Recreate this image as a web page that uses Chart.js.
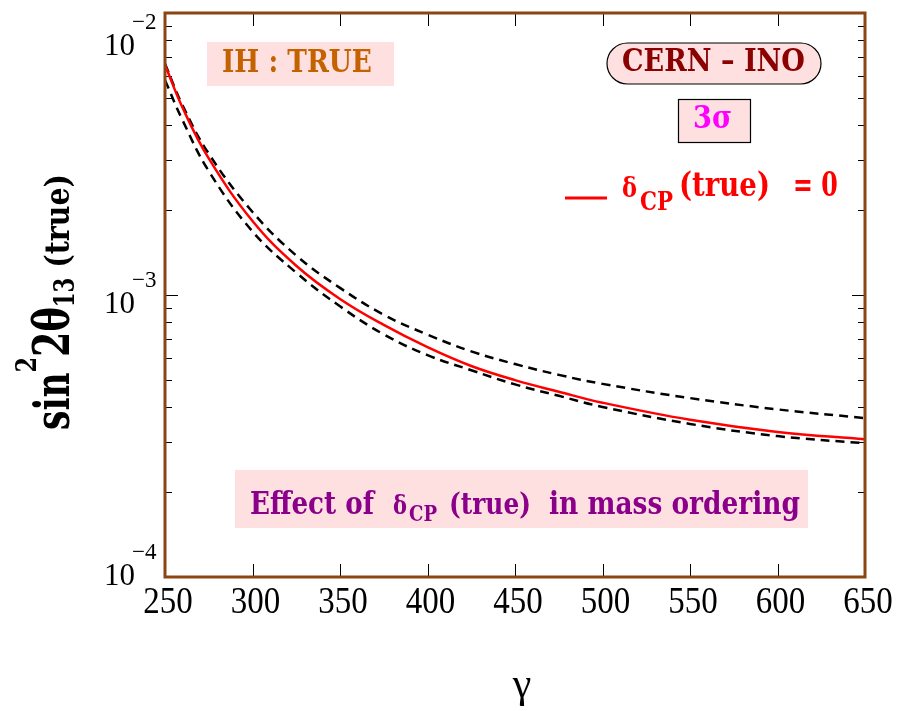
<!DOCTYPE html>
<html><head><meta charset="utf-8">
<script src="https://cdn.jsdelivr.net/npm/chart.js@4.4.1/dist/chart.umd.min.js"></script>
<style>html,body{margin:0;padding:0;background:#fff;}canvas{display:block;}</style>
</head><body>
<canvas id="c" width="911" height="711"></canvas>
<script>
// ---- data ----
const gamma       = [250, 260, 275, 300, 325, 350, 375, 400, 425, 450, 475, 500, 550, 600, 650];
const deltaCPzero = [6.55e-3, 4.62e-3, 3.05e-3, 1.83e-3, 1.27e-3, 9.68e-4, 7.83e-4, 6.53e-4, 5.60e-4, 4.99e-4, 4.54e-4, 4.15e-4, 3.61e-4, 3.27e-4, 3.08e-4];
const dashedUpper = [6.61e-3, 4.71e-3, 3.17e-3, 1.97e-3, 1.38e-3, 1.06e-3, 8.51e-4, 7.24e-4, 6.31e-4, 5.69e-4, 5.21e-4, 4.84e-4, 4.31e-4, 3.93e-4, 3.66e-4];
const dashedLower = [5.78e-3, 4.17e-3, 2.75e-3, 1.68e-3, 1.20e-3, 9.12e-4, 7.25e-4, 6.12e-4, 5.41e-4, 4.82e-4, 4.39e-4, 4.01e-4, 3.49e-4, 3.16e-4, 2.98e-4];
const xTicks      = [250, 300, 350, 400, 450, 500, 550, 600, 650];
const yDecades    = [1e-4, 1e-3, 1e-2];
const yExponents  = ['−4', '−3', '−2'];

const pts = arr => gamma.map((g, i) => ({x: g, y: arr[i]}));

const BORDER = '#8b4513';
const PINK = '#ffe0e0';
const BOLD = '"DejaVu Serif", serif';
const TIMES = '"Liberation Serif", "Times New Roman", serif';
const SY = 1.22;

function fitText(ctx, text, x0, x1, base, color, sy) {
  ctx.font = 'bold 100px ' + BOLD;
  const w = ctx.measureText(text).width;
  const size = 100 * (x1 - x0) / w;
  drawText(ctx, text, x0, base, size, color, sy);
  return size;
}
function drawText(ctx, text, x, base, size, color, sy) {
  ctx.save();
  ctx.font = 'bold ' + size.toFixed(2) + 'px ' + BOLD;
  ctx.fillStyle = color;
  ctx.textAlign = 'left';
  ctx.textBaseline = 'alphabetic';
  ctx.translate(x, base);
  ctx.scale(1, sy === undefined ? SY : sy);
  ctx.fillText(text, 0, 0);
  ctx.restore();
}

function roundRect(ctx, x, y, w, h, r) {
  ctx.beginPath();
  ctx.moveTo(x + r, y);
  ctx.lineTo(x + w - r, y);
  ctx.arc(x + w - r, y + r, r, -Math.PI / 2, Math.PI / 2);
  ctx.lineTo(x + r, y + h);
  ctx.arc(x + r, y + r, r, Math.PI / 2, Math.PI * 1.5);
  ctx.closePath();
}

const decor = {
  id: 'decor',
  beforeDatasetsDraw(chart) {
    const ctx = chart.ctx, xs = chart.scales.x, ys = chart.scales.y, a = chart.chartArea;
    ctx.save();
    ctx.strokeStyle = '#000';
    ctx.lineWidth = 1;
    ctx.beginPath();
    xTicks.forEach(v => {
      const px = Math.round(xs.getPixelForValue(v)) + 0.5;
      ctx.moveTo(px, a.bottom); ctx.lineTo(px, a.bottom - 13);
      ctx.moveTo(px, a.top); ctx.lineTo(px, a.top + 13);
    });
    yDecades.forEach(d => {
      const py = Math.round(ys.getPixelForValue(d)) + 0.5;
      ctx.moveTo(a.left, py); ctx.lineTo(a.left + 13, py);
      ctx.moveTo(a.right, py); ctx.lineTo(a.right - 13, py);
      if (d < 1e-2) {
        for (let k = 2; k <= 9; k++) {
          const pm = Math.round(ys.getPixelForValue(k * d)) + 0.5;
          ctx.moveTo(a.left, pm); ctx.lineTo(a.left + 7, pm);
          ctx.moveTo(a.right, pm); ctx.lineTo(a.right - 7, pm);
        }
      }
    });
    ctx.stroke();
    ctx.restore();
  },
  afterDatasetsDraw(chart) {
    const ctx = chart.ctx, xs = chart.scales.x, ys = chart.scales.y, a = chart.chartArea;
    ctx.save();
    ctx.strokeStyle = BORDER;
    ctx.lineWidth = 3;
    ctx.strokeRect(a.left, a.top, a.right - a.left, a.bottom - a.top);

    // x tick labels
    ctx.fillStyle = '#000';
    ctx.textBaseline = 'alphabetic';
    xTicks.forEach(v => {
      ctx.save();
      ctx.font = '33px ' + TIMES;
      ctx.textAlign = 'center';
      ctx.translate(xs.getPixelForValue(v) + 3, 613);
      ctx.scale(1, 1.12);
      ctx.fillText(String(v), 0, 0);
      ctx.restore();
    });

    // y tick labels 10^n
    const offs = [8, 18, 42];
    yDecades.forEach((d, i) => {
      const base = ys.getPixelForValue(d) + offs[i];
      ctx.font = '31px ' + TIMES;
      ctx.textAlign = 'right';
      ctx.fillText('10', 135, base);
      ctx.font = '23px ' + TIMES;
      ctx.textAlign = 'left';
      ctx.fillText(yExponents[i], 132, base - 26);
    });

    // x title
    ctx.font = '42px ' + TIMES;
    ctx.textAlign = 'center';
    ctx.fillText('γ', 522, 697);

    // y title (rotated)
    ctx.save();
    ctx.translate(69, 430);
    ctx.rotate(-Math.PI / 2);
    const parts = [
      {t: 'sin', s: 34, dy: 0, sy: 1.45},
      {t: '2', s: 22, dy: -33, sy: 1.3},
      {t: '2θ', s: 36, dy: 0, sy: 1.42},
      {t: '13', s: 21, dy: 5, sy: 1.3},
      {t: ' (true)', s: 28, dy: 0, sy: 1.2}
    ];
    let tot = 0;
    parts.forEach(p => { ctx.font = 'bold ' + p.s + 'px ' + BOLD; tot += ctx.measureText(p.t).width; });
    const f = 256 / tot;
    let cx = 0;
    parts.forEach(p => {
      ctx.font = 'bold ' + (p.s * f) + 'px ' + BOLD;
      const w = ctx.measureText(p.t).width;
      drawText(ctx, p.t, cx, p.dy, p.s * f, '#000', p.sy / f);
      cx += w;
    });
    ctx.restore();

    // IH : TRUE
    ctx.fillStyle = PINK;
    ctx.fillRect(207, 42, 187, 44);
    fitText(ctx, 'IH : TRUE', 222, 372, 72, '#c46200');

    // CERN - INO
    roundRect(ctx, 607, 43, 214, 41, 20.5);
    ctx.fillStyle = PINK; ctx.fill();
    ctx.strokeStyle = '#000'; ctx.lineWidth = 1.2; ctx.stroke();
    fitText(ctx, 'CERN – INO', 622, 805, 71, '#8b0000', 1.15);

    // 3 sigma
    ctx.fillStyle = PINK;
    ctx.fillRect(678, 99, 72, 43);
    ctx.strokeStyle = '#000'; ctx.lineWidth = 1.2;
    ctx.strokeRect(678.5, 99.5, 72, 43);
    fitText(ctx, '3σ', 693, 732, 128, '#ff00ff', 1.15);

    // legend
    ctx.strokeStyle = '#ff0000'; ctx.lineWidth = 3;
    ctx.beginPath(); ctx.moveTo(565, 198); ctx.lineTo(607, 198); ctx.stroke();
    fitText(ctx, 'δ', 622, 637, 197, '#ff0000');
    fitText(ctx, 'CP', 640, 673, 210, '#ff0000');
    const ls = fitText(ctx, '(true)', 679, 770, 196, '#ff0000');
    drawText(ctx, '= 0', 793, 196, ls * 0.86, '#ff0000', SY / 0.86);

    // bottom box
    ctx.fillStyle = PINK;
    ctx.fillRect(235, 470, 573, 58);
    const PUR = '#8b008b';
    fitText(ctx, 'Effect of', 250, 374, 514, PUR);
    fitText(ctx, 'δ', 393, 407, 514, PUR);
    fitText(ctx, 'CP', 409, 437, 521, PUR);
    fitText(ctx, '(true)', 449, 531, 514, PUR);
    fitText(ctx, 'in mass ordering', 549, 800, 514, PUR);
    ctx.restore();
  }
};

new Chart(document.getElementById('c'), {
  type: 'line',
  data: {
    datasets: [
      {label: 'δCP(true) = 0', data: pts(deltaCPzero), borderColor: '#ff0000', borderWidth: 2.5, order: 0},
      {label: 'upper', data: pts(dashedUpper), borderColor: '#000', borderWidth: 2.5, borderDash: [9, 6], order: 1},
      {label: 'lower', data: pts(dashedLower), borderColor: '#000', borderWidth: 2.5, borderDash: [9, 6], order: 2}
    ]
  },
  options: {
    responsive: false,
    animation: false,
    devicePixelRatio: 1,
    layout: {padding: {left: 165, right: 46, top: 13, bottom: 134}},
    elements: {point: {radius: 0}, line: {tension: 0.4, fill: false}},
    plugins: {legend: {display: false}, tooltip: {enabled: false}},
    scales: {
      x: {type: 'linear', min: 250, max: 650, display: false},
      y: {type: 'logarithmic', min: 1e-4, max: 1e-2, display: false}
    }
  },
  plugins: [decor]
});
</script>
</body></html>
